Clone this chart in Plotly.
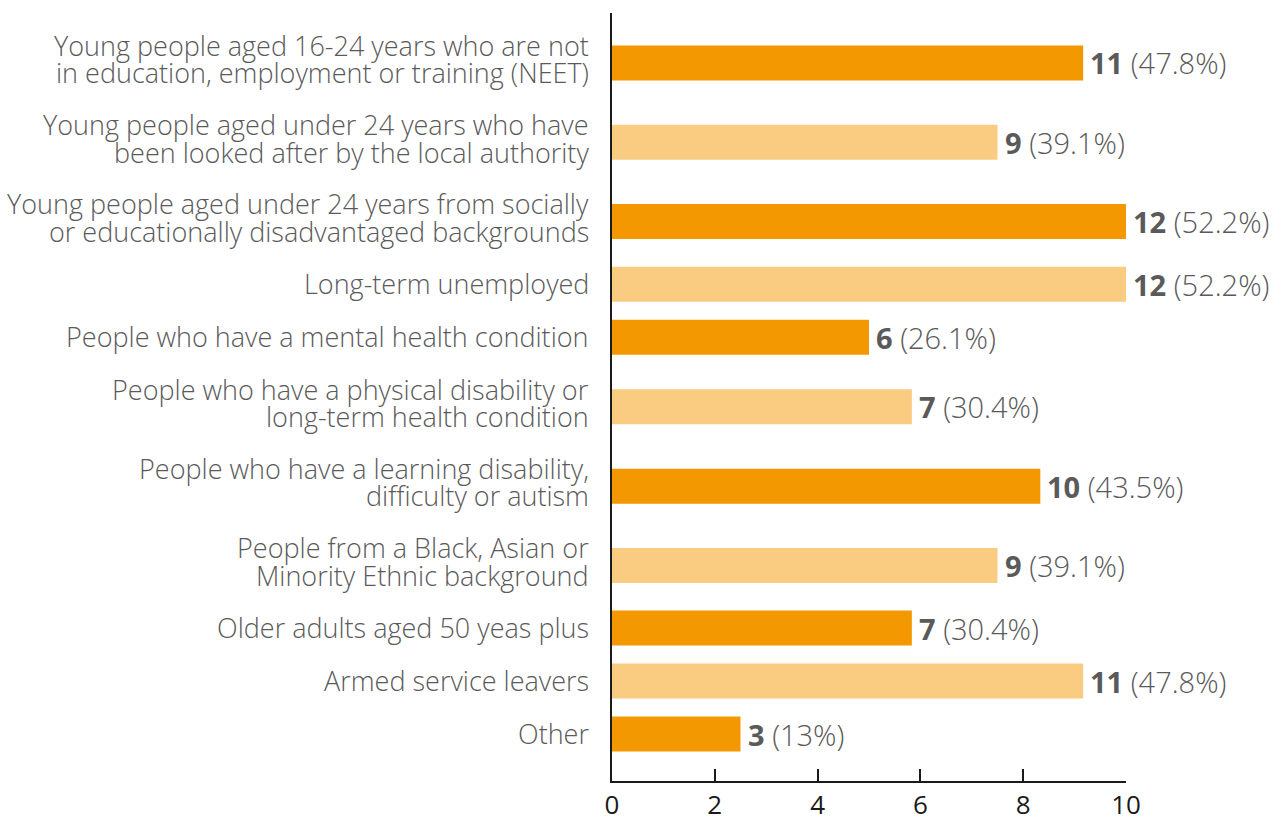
import plotly.graph_objects as go

# Target groups and the number (share) of organisations supporting each
groups = [
    "Young people aged 16-24 years who are not<br>in education, employment or training (NEET)",
    "Young people aged under 24 years who have<br>been looked after by the local authority",
    "Young people aged under 24 years from socially<br>or educationally disadvantaged backgrounds",
    "Long-term unemployed",
    "People who have a mental health condition",
    "People who have a physical disability or<br>long-term health condition",
    "People who have a learning disability,<br>difficulty or autism",
    "People from a Black, Asian or<br>Minority Ethnic background",
    "Older adults aged 50 yeas plus",
    "Armed service leavers",
    "Other",
]
counts = [11, 9, 12, 12, 6, 7, 10, 9, 7, 11, 3]
shares = ["47.8%", "39.1%", "52.2%", "52.2%", "26.1%", "30.4%", "43.5%", "39.1%", "30.4%", "47.8%", "13%"]
tick_labels = ["0", "2", "4", "6", "8", "10"]

DARK = "#F39800"
LIGHT = "#F9CC82"
TEXT = "#5A5A5A"
AXIS = "#1A1A1A"
FONT = "Open Sans"

W, H = 1278, 818
M_L, M_R, M_T, M_B = 612, 152, 13, 37
plot_h = H - M_T - M_B

# Row layout: two-line labels get taller rows, bars sit a little low in them
ROW_H = {1: 53, 2: 79.3}
BAR_OFFSET = {1: 0.0, 2: 3.5}
LINE_GAP = 27.5

n_lines = [g.count("<br>") + 1 for g in groups]
row_centres, bar_pos = [], []
acc = 6.8
for n in n_lines:
    c = acc + ROW_H[n] / 2
    row_centres.append(c)
    bar_pos.append(c + BAR_OFFSET[n])
    acc += ROW_H[n]

colors = [DARK if i % 2 == 0 else LIGHT for i in range(len(groups))]

# Bars fill the axis span up to the largest count
x_max = max(counts)
tick_step = x_max / (len(tick_labels) - 1)
tick_vals = [i * tick_step for i in range(len(tick_labels))]

fig = go.Figure(
    go.Bar(
        x=counts,
        y=bar_pos,
        orientation="h",
        width=35,
        marker=dict(color=colors, line=dict(width=0)),
        hoverinfo="skip",
        cliponaxis=False,
    )
)

annotations = []
# Category labels, one annotation per line
for g, c, n in zip(groups, row_centres, n_lines):
    for k, line in enumerate(g.split("<br>")):
        annotations.append(dict(
            x=0, xref="paper", xanchor="right", xshift=-21,
            y=c, yref="y", yanchor="middle",
            yshift=-(k - (n - 1) / 2) * LINE_GAP + 0.5,
            text=line, showarrow=False,
            font=dict(family=FONT, size=27, color=TEXT, weight=300),
        ))

# Value labels at the end of each bar
for v, s, y in zip(counts, shares, bar_pos):
    annotations.append(dict(
        x=v, xref="x", xanchor="left", xshift=5,
        y=y, yref="y", yanchor="middle",
        text=f"<b>{v}</b> ({s})", showarrow=False,
        font=dict(family=FONT, size=29, color=TEXT, weight=300),
    ))

fig.update_layout(
    width=W, height=H,
    margin=dict(l=M_L, r=M_R, t=M_T, b=M_B, pad=0, autoexpand=False),
    paper_bgcolor="white", plot_bgcolor="white",
    showlegend=False,
    annotations=annotations,
    xaxis=dict(
        range=[0, x_max], tickvals=tick_vals, ticktext=tick_labels,
        automargin=False,
        showgrid=False, zeroline=False,
        showline=True, linecolor=AXIS, linewidth=2,
        ticks="inside", ticklen=12, tickwidth=2, tickcolor=AXIS,
        tickfont=dict(family=FONT, size=26, color=AXIS),
        fixedrange=True,
    ),
    yaxis=dict(
        range=[plot_h, 0], showticklabels=False, automargin=False,
        showgrid=False, zeroline=False,
        showline=True, linecolor=AXIS, linewidth=2,
        ticks="", fixedrange=True,
    ),
)

fig.write_html("out.html", config={"displayModeBar": False})
